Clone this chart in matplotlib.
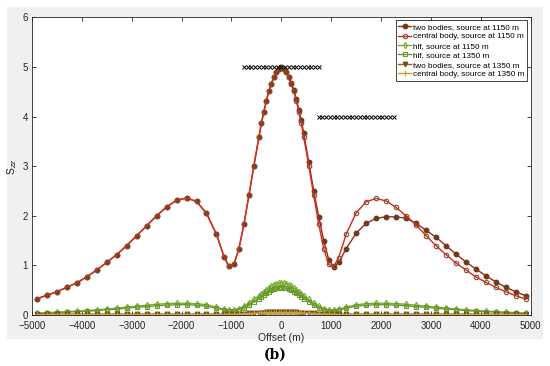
import matplotlib
matplotlib.use('Agg')
import matplotlib.pyplot as plt
from matplotlib.patches import Rectangle

plt.rcParams['font.family'] = ['Liberation Sans', 'DejaVu Sans']

# offsets (m), shared by all curves
x_off = [-4900, -4700, -4500, -4300, -4100, -3900, -3700, -3500, -3300, -3100,
         -2900, -2700, -2500, -2300, -2100, -1900, -1700, -1500, -1300, -1150,
         -1050, -950, -850, -750, -650, -550, -450, -400, -350, -300,
         -250, -200, -150, -100, -50, 0, 50, 100, 150, 200,
         250, 300, 350, 400, 450, 550, 650, 750, 850, 950,
         1050, 1150, 1300, 1500, 1700, 1900, 2100, 2300, 2500, 2700,
         2900, 3100, 3300, 3500, 3700, 3900, 4100, 4300, 4500, 4700, 4900]

two_1150 = [0.33, 0.40, 0.47, 0.56, 0.65, 0.77, 0.91, 1.06, 1.22, 1.40,
            1.60, 1.80, 2.00, 2.18, 2.31, 2.36, 2.29, 2.05, 1.63, 1.18,
            0.98, 1.02, 1.34, 1.83, 2.41, 3.01, 3.58, 3.86, 4.10, 4.32,
            4.51, 4.66, 4.79, 4.89, 4.96, 4.99, 4.96, 4.89, 4.79, 4.67,
            4.53, 4.35, 4.14, 3.92, 3.66, 3.08, 2.50, 1.98, 1.50, 1.12,
            0.97, 1.06, 1.34, 1.65, 1.85, 1.95, 1.98, 1.98, 1.95, 1.85,
            1.71, 1.57, 1.40, 1.23, 1.07, 0.93, 0.79, 0.67, 0.56, 0.47, 0.39]

central_1150 = [0.33, 0.40, 0.47, 0.56, 0.65, 0.77, 0.91, 1.06, 1.22, 1.40,
                1.60, 1.80, 2.00, 2.18, 2.31, 2.36, 2.29, 2.05, 1.63, 1.18,
                0.98, 1.02, 1.34, 1.83, 2.41, 3.01, 3.58, 3.86, 4.10, 4.32,
                4.51, 4.66, 4.79, 4.89, 4.96, 5.00, 4.96, 4.89, 4.79, 4.66,
                4.51, 4.32, 4.10, 3.86, 3.58, 3.01, 2.41, 1.83, 1.34, 1.02,
                0.98, 1.16, 1.63, 2.06, 2.28, 2.35, 2.30, 2.17, 2.00, 1.82,
                1.60, 1.40, 1.22, 1.05, 0.91, 0.77, 0.66, 0.56, 0.47, 0.39, 0.32]

hlf_1150 = [0.04, 0.05, 0.06, 0.07, 0.08, 0.09, 0.11, 0.12, 0.14, 0.16,
            0.18, 0.20, 0.22, 0.23, 0.24, 0.24, 0.23, 0.21, 0.16, 0.12,
            0.10, 0.10, 0.13, 0.18, 0.25, 0.32, 0.39, 0.43, 0.47, 0.51,
            0.55, 0.58, 0.61, 0.63, 0.64, 0.65, 0.64, 0.63, 0.61, 0.58,
            0.55, 0.51, 0.47, 0.43, 0.39, 0.32, 0.25, 0.18, 0.13, 0.10,
            0.10, 0.12, 0.16, 0.21, 0.23, 0.24, 0.24, 0.23, 0.22, 0.20,
            0.18, 0.16, 0.14, 0.12, 0.11, 0.09, 0.08, 0.07, 0.06, 0.05, 0.04]

hlf_1350 = [0.03, 0.04, 0.05, 0.06, 0.07, 0.08, 0.09, 0.11, 0.12, 0.14,
            0.16, 0.17, 0.19, 0.20, 0.21, 0.21, 0.20, 0.18, 0.14, 0.10,
            0.08, 0.08, 0.11, 0.15, 0.21, 0.27, 0.33, 0.37, 0.40, 0.44,
            0.47, 0.50, 0.52, 0.54, 0.55, 0.56, 0.55, 0.54, 0.52, 0.50,
            0.47, 0.44, 0.40, 0.37, 0.33, 0.27, 0.21, 0.15, 0.11, 0.08,
            0.08, 0.10, 0.14, 0.18, 0.20, 0.21, 0.21, 0.20, 0.19, 0.17,
            0.16, 0.14, 0.12, 0.11, 0.09, 0.08, 0.07, 0.06, 0.05, 0.04, 0.03]

two_1350 = [0.02, 0.02, 0.02, 0.02, 0.02, 0.02, 0.02, 0.02, 0.02, 0.02,
            0.02, 0.02, 0.02, 0.02, 0.02, 0.02, 0.02, 0.02, 0.02, 0.02,
            0.02, 0.02, 0.03, 0.03, 0.04, 0.04, 0.05, 0.05, 0.05, 0.06,
            0.06, 0.06, 0.06, 0.06, 0.06, 0.06, 0.06, 0.06, 0.06, 0.06,
            0.06, 0.06, 0.05, 0.05, 0.05, 0.04, 0.04, 0.03, 0.03, 0.02,
            0.02, 0.02, 0.02, 0.02, 0.02, 0.02, 0.02, 0.02, 0.02, 0.02,
            0.02, 0.02, 0.02, 0.02, 0.02, 0.02, 0.02, 0.02, 0.02, 0.02, 0.02]

central_1350 = [0.01, 0.01, 0.01, 0.01, 0.01, 0.01, 0.01, 0.01, 0.01, 0.01,
                0.01, 0.01, 0.01, 0.01, 0.01, 0.01, 0.01, 0.01, 0.01, 0.01,
                0.02, 0.02, 0.02, 0.03, 0.03, 0.04, 0.04, 0.04, 0.05, 0.05,
                0.05, 0.05, 0.05, 0.05, 0.05, 0.05, 0.05, 0.05, 0.05, 0.05,
                0.05, 0.05, 0.05, 0.04, 0.04, 0.04, 0.03, 0.03, 0.02, 0.02,
                0.02, 0.01, 0.01, 0.01, 0.01, 0.01, 0.01, 0.01, 0.01, 0.01,
                0.01, 0.01, 0.01, 0.01, 0.01, 0.01, 0.01, 0.01, 0.01, 0.01, 0.01]

# extent of the bodies (black x rows)
body1_x = [-750, -675, -600, -525, -450, -375, -300, -225, -150, -75, 0,
           75, 150, 225, 300, 375, 450, 525, 600, 675, 750]
body1_y = [5] * len(body1_x)
body2_x = [750, 825, 900, 975, 1050, 1125, 1200, 1275, 1350, 1425, 1500,
           1575, 1650, 1725, 1800, 1875, 1950, 2025, 2100, 2175, 2250]
body2_y = [4] * len(body2_x)

fig = plt.figure(figsize=(5.5, 3.66), dpi=100)
fig.patch.set_facecolor('white')
# matlab style grey figure area, behind the axes
fig.patches.append(Rectangle((0.013, 0.074), 0.975, 0.907, transform=fig.transFigure,
                             facecolor='#f0f0f0', edgecolor='none', zorder=-10))

ax = fig.add_axes([0.058, 0.139, 0.907, 0.814])
ax.set_facecolor('white')

ms = 3.2
ax.plot(x_off, two_1150, '-o', color='#a3261c', lw=1.0, ms=ms,
        mfc='#6e3a1c', mec='#6e3a1c', label='two bodies, source at 1150 m')
ax.plot(x_off, central_1150, '-o', color='#d42a1e', lw=1.0, ms=ms,
        mfc='none', mec='#8b4a2a', mew=0.8, label='central body, source at 1150 m')
ax.plot(x_off, hlf_1150, '-d', color='#77ac30', lw=1.0, ms=ms,
        mfc='none', mec='#77ac30', mew=0.8, label='hlf, source at 1150 m')
ax.plot(x_off, hlf_1350, '-s', color='#6b9a2c', lw=1.0, ms=ms - 0.4,
        mfc='none', mec='#6b9a2c', mew=0.8, label='hlf, source at 1350 m')
ax.plot(x_off, two_1350, '-v', color='#8c6a1a', lw=1.0, ms=ms,
        mfc='#6e5418', mec='#6e5418', label='two bodies, source at 1350 m')
ax.plot(x_off, central_1350, '-+', color='#c9a040', lw=1.0, ms=ms + 0.6,
        mec='#c9a040', mew=0.8, label='central body, source at 1350 m')

ax.plot(body1_x, body1_y, 'x', color='black', ms=2.4, mew=0.7)
ax.plot(body2_x, body2_y, 'x', color='black', ms=2.4, mew=0.7)

ax.set_xlim(-5000, 5000)
ax.set_ylim(0, 6)
ax.set_xticks([-5000, -4000, -3000, -2000, -1000, 0, 1000, 2000, 3000, 4000, 5000])
ax.set_yticks([0, 1, 2, 3, 4, 5, 6])
ax.tick_params(direction='in', top=True, right=True, length=3, width=0.6,
               labelsize=7, colors='#262626')
ax.tick_params(axis='x', pad=4.5)
ax.tick_params(axis='y', pad=3)
for s in ax.spines.values():
    s.set_linewidth(0.6)
    s.set_color('#262626')

ax.set_xlabel('Offset (m)', fontsize=7.5, color='#262626', labelpad=1)
ax.set_ylabel('S$_{zz}$', fontsize=7.5, color='#262626', labelpad=2)

leg = ax.legend(loc='upper right', fontsize=5.9, handlelength=1.5, handletextpad=0.3,
                borderpad=0.35, labelspacing=0.2, fancybox=False, framealpha=1,
                borderaxespad=0.4)
leg.get_frame().set_edgecolor('#262626')
leg.get_frame().set_linewidth(0.6)

fig.text(0.5, 0.03, '(b)', ha='center', va='center', fontsize=10,
         family='DejaVu Serif', fontweight='bold')

plt.savefig('out.png', dpi=100)
